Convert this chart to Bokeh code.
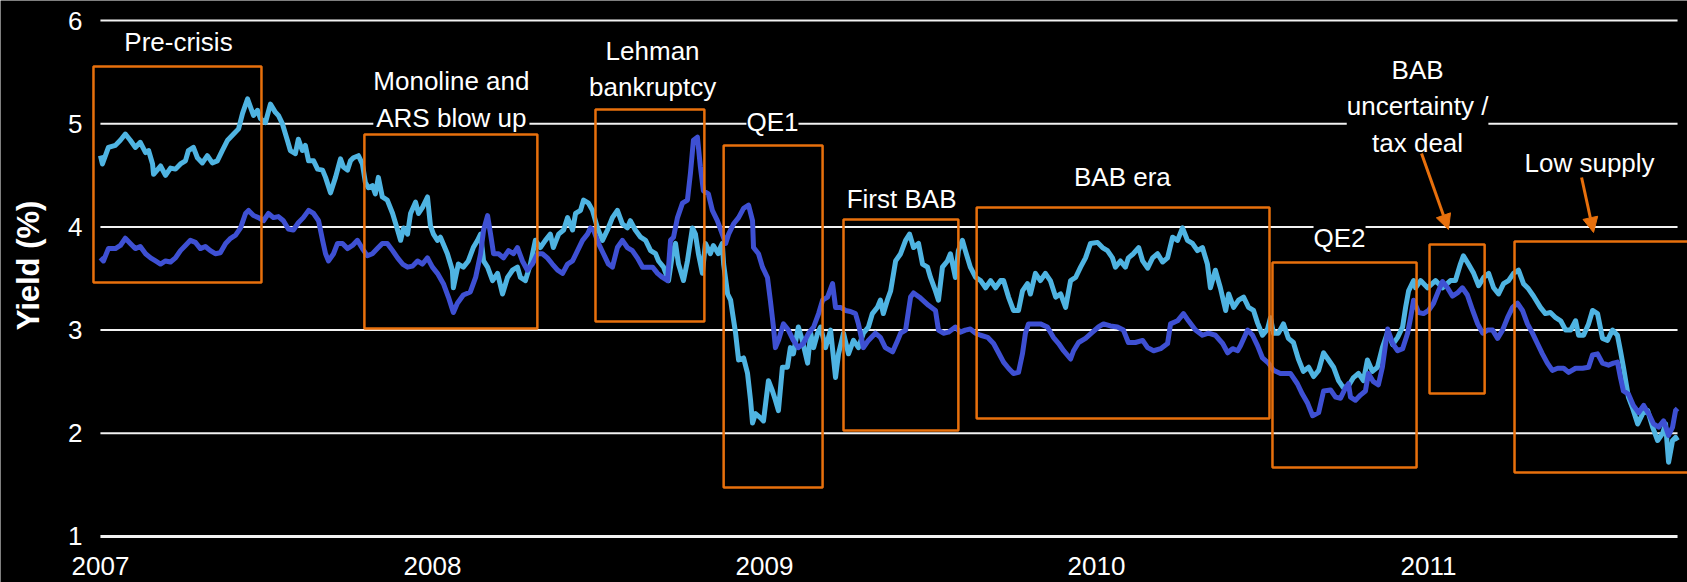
import numpy as np
from bokeh.plotting import figure
from bokeh.models import (Range1d, Label, LabelSet, ColumnDataSource,
                          BoxAnnotation, Arrow, NormalHead)
from bokeh.core.properties import value
from bokeh.embed import file_html
from bokeh.resources import INLINE

# ---------------- data ----------------
year_ticks = [2007, 2008, 2009, 2010, 2011]
year_labels = ["2007", "2008", "2009", "2010", "2011"]
yield_ticks = [1, 2, 3, 4, 5, 6]
yield_labels = ["1", "2", "3", "4", "5", "6"]

# light-blue series: time in years since 1 Jan 2007, yield (%)
lb_t = [0.000, 0.006, 0.024, 0.045, 0.060, 0.075, 0.090, 0.105, 0.120, 0.136,
        0.145, 0.157, 0.160, 0.181, 0.196, 0.211, 0.226, 0.241, 0.256, 0.265,
        0.280, 0.292, 0.307, 0.322, 0.337, 0.352, 0.367, 0.383, 0.401, 0.416,
        0.428, 0.443, 0.452, 0.461, 0.473, 0.482, 0.497, 0.512, 0.527, 0.536,
        0.548, 0.563, 0.572, 0.587, 0.596, 0.608, 0.617, 0.627, 0.642, 0.654,
        0.669, 0.678, 0.693, 0.708, 0.723, 0.732, 0.744, 0.753, 0.762, 0.777,
        0.789, 0.798, 0.807, 0.819, 0.828, 0.837, 0.849, 0.864, 0.880, 0.895,
        0.904, 0.913, 0.925, 0.934, 0.949, 0.958, 0.970, 0.985, 0.994, 1.003,
        1.015, 1.024, 1.045, 1.060, 1.063, 1.078, 1.093, 1.108, 1.123, 1.136,
        1.145, 1.154, 1.166, 1.181, 1.196, 1.211, 1.226, 1.241, 1.256, 1.265,
        1.280, 1.295, 1.310, 1.325, 1.340, 1.355, 1.364, 1.380, 1.395, 1.407,
        1.422, 1.431, 1.446, 1.455, 1.470, 1.482, 1.497, 1.512, 1.527, 1.542,
        1.557, 1.572, 1.587, 1.596, 1.611, 1.627, 1.642, 1.657, 1.672, 1.681,
        1.696, 1.711, 1.723, 1.732, 1.741, 1.756, 1.768, 1.783, 1.792, 1.801,
        1.813, 1.822, 1.837, 1.846, 1.861, 1.867, 1.873, 1.877, 1.889, 1.898,
        1.904, 1.913, 1.922, 1.937, 1.949, 1.958, 1.964, 1.973, 1.988, 1.997,
        2.012, 2.024, 2.033, 2.042, 2.054, 2.069, 2.078, 2.087, 2.102, 2.114,
        2.130, 2.139, 2.148, 2.160, 2.169, 2.184, 2.199, 2.214, 2.223, 2.238,
        2.253, 2.268, 2.283, 2.298, 2.313, 2.325, 2.340, 2.349, 2.358, 2.370,
        2.380, 2.395, 2.410, 2.425, 2.437, 2.449, 2.464, 2.476, 2.491, 2.500,
        2.515, 2.524, 2.536, 2.551, 2.560, 2.575, 2.584, 2.596, 2.605, 2.620,
        2.636, 2.651, 2.666, 2.681, 2.696, 2.711, 2.720, 2.735, 2.750, 2.765,
        2.777, 2.792, 2.801, 2.816, 2.831, 2.846, 2.861, 2.877, 2.892, 2.907,
        2.922, 2.937, 2.952, 2.967, 2.982, 3.003, 3.018, 3.033, 3.048, 3.057,
        3.072, 3.087, 3.096, 3.111, 3.127, 3.139, 3.154, 3.169, 3.184, 3.199,
        3.214, 3.229, 3.244, 3.259, 3.274, 3.289, 3.304, 3.319, 3.334, 3.343,
        3.358, 3.373, 3.389, 3.398, 3.413, 3.428, 3.443, 3.458, 3.473, 3.485,
        3.500, 3.515, 3.524, 3.533, 3.548, 3.563, 3.578, 3.593, 3.608, 3.623,
        3.639, 3.654, 3.669, 3.684, 3.699, 3.714, 3.729, 3.744, 3.759, 3.774,
        3.789, 3.804, 3.816, 3.831, 3.846, 3.861, 3.877, 3.892, 3.907, 3.922,
        3.931, 3.940, 3.955, 3.961, 3.976, 3.997, 4.021, 4.042, 4.066, 4.081,
        4.096, 4.105, 4.120, 4.136, 4.151, 4.166, 4.181, 4.196, 4.211, 4.226,
        4.241, 4.256, 4.271, 4.286, 4.301, 4.316, 4.337, 4.352, 4.367, 4.383,
        4.398, 4.413, 4.428, 4.443, 4.452, 4.467, 4.482, 4.494, 4.509, 4.524,
        4.539, 4.554, 4.569, 4.578, 4.587, 4.602, 4.614, 4.630, 4.645, 4.660,
        4.675, 4.690, 4.705, 4.714, 4.723, 4.735, 4.744, 4.750]
lb_v = [4.69, 4.61, 4.77, 4.79, 4.84, 4.90, 4.84, 4.77, 4.82, 4.72,
        4.74, 4.61, 4.51, 4.59, 4.50, 4.57, 4.56, 4.61, 4.64, 4.74,
        4.77, 4.67, 4.62, 4.69, 4.62, 4.64, 4.74, 4.84, 4.90, 4.95,
        5.10, 5.24, 5.16, 5.08, 5.13, 5.05, 5.01, 5.19, 5.11, 5.08,
        5.00, 4.84, 4.74, 4.71, 4.85, 4.74, 4.79, 4.64, 4.64, 4.56,
        4.55, 4.48, 4.33, 4.48, 4.66, 4.58, 4.55, 4.64, 4.67, 4.69,
        4.61, 4.43, 4.38, 4.40, 4.32, 4.48, 4.29, 4.26, 4.13, 3.97,
        3.87, 3.99, 3.93, 4.13, 4.24, 4.13, 4.19, 4.29, 4.01, 3.93,
        3.87, 3.90, 3.74, 3.58, 3.41, 3.64, 3.61, 3.67, 3.80, 3.87,
        3.93, 3.67, 3.61, 3.48, 3.55, 3.35, 3.51, 3.58, 3.61, 3.51,
        3.48, 3.64, 3.87, 3.80, 3.87, 3.93, 3.80, 3.93, 3.97, 4.09,
        3.97, 4.13, 4.16, 4.26, 4.23, 4.16, 3.99, 3.87, 3.97, 4.09,
        4.16, 4.03, 3.99, 4.06, 3.97, 3.90, 3.87, 3.77, 3.74, 3.67,
        3.61, 3.48, 3.74, 3.84, 3.64, 3.48, 3.67, 3.99, 3.93, 3.74,
        3.55, 3.84, 3.74, 3.82, 3.74, 3.80, 3.84, 3.64, 3.35, 3.29,
        3.16, 2.97, 2.71, 2.73, 2.58, 2.32, 2.10, 2.19, 2.15, 2.12,
        2.51, 2.41, 2.32, 2.22, 2.64, 2.64, 2.83, 2.77, 3.03, 2.90,
        2.68, 2.97, 2.83, 2.97, 3.03, 2.83, 3.00, 2.54, 2.77, 2.97,
        2.77, 2.90, 2.83, 2.97, 3.03, 3.16, 3.22, 3.29, 3.16, 3.29,
        3.38, 3.67, 3.74, 3.87, 3.93, 3.80, 3.84, 3.64, 3.61, 3.51,
        3.38, 3.29, 3.61, 3.67, 3.74, 3.51, 3.77, 3.87, 3.77, 3.61,
        3.51, 3.48, 3.41, 3.48, 3.41, 3.48, 3.48, 3.32, 3.19, 3.19,
        3.38, 3.45, 3.35, 3.55, 3.48, 3.55, 3.48, 3.32, 3.35, 3.22,
        3.48, 3.51, 3.61, 3.70, 3.84, 3.85, 3.80, 3.77, 3.70, 3.61,
        3.67, 3.61, 3.70, 3.74, 3.80, 3.67, 3.60, 3.70, 3.74, 3.66,
        3.70, 3.90, 3.87, 3.99, 3.87, 3.84, 3.77, 3.80, 3.64, 3.41,
        3.58, 3.41, 3.19, 3.35, 3.22, 3.29, 3.32, 3.22, 3.19, 3.07,
        2.95, 3.01, 3.12, 2.97, 2.97, 3.06, 2.92, 2.88, 2.72, 2.60,
        2.64, 2.55, 2.61, 2.78, 2.71, 2.64, 2.51, 2.44, 2.46, 2.54,
        2.58, 2.51, 2.71, 2.60, 2.64, 2.83, 2.98, 2.86, 2.93, 3.03,
        3.22, 3.38, 3.48, 3.41, 3.48, 3.41, 3.48, 3.41, 3.48, 3.48,
        3.64, 3.72, 3.64, 3.55, 3.43, 3.51, 3.55, 3.41, 3.35, 3.45,
        3.48, 3.55, 3.58, 3.45, 3.40, 3.33, 3.22, 3.16, 3.17, 3.12,
        3.09, 3.00, 3.00, 3.09, 2.95, 2.95, 3.06, 3.19, 3.16, 2.92,
        2.90, 3.00, 2.95, 2.80, 2.64, 2.35, 2.25, 2.09, 2.19, 2.22,
        2.06, 1.93, 2.00, 2.09, 1.72, 1.93, 1.96, 1.93]

# dark-blue series: time in years since 1 Jan 2007, yield (%)
db_t = [0.000, 0.009, 0.024, 0.045, 0.060, 0.075, 0.090, 0.105, 0.120, 0.136,
        0.151, 0.166, 0.181, 0.196, 0.211, 0.226, 0.241, 0.256, 0.271, 0.286,
        0.301, 0.316, 0.331, 0.346, 0.361, 0.377, 0.392, 0.407, 0.422, 0.437,
        0.446, 0.461, 0.476, 0.491, 0.506, 0.521, 0.536, 0.551, 0.566, 0.581,
        0.596, 0.611, 0.627, 0.642, 0.657, 0.669, 0.678, 0.687, 0.702, 0.714,
        0.729, 0.744, 0.759, 0.774, 0.789, 0.804, 0.819, 0.834, 0.849, 0.864,
        0.880, 0.895, 0.910, 0.925, 0.940, 0.955, 0.970, 0.985, 1.000, 1.015,
        1.033, 1.048, 1.063, 1.075, 1.093, 1.114, 1.130, 1.145, 1.154, 1.166,
        1.175, 1.184, 1.199, 1.214, 1.229, 1.244, 1.256, 1.271, 1.286, 1.301,
        1.316, 1.331, 1.346, 1.361, 1.377, 1.392, 1.407, 1.422, 1.437, 1.452,
        1.467, 1.476, 1.485, 1.500, 1.515, 1.530, 1.542, 1.557, 1.572, 1.587,
        1.602, 1.617, 1.633, 1.648, 1.663, 1.678, 1.693, 1.708, 1.717, 1.726,
        1.738, 1.753, 1.768, 1.777, 1.786, 1.798, 1.807, 1.816, 1.831, 1.843,
        1.858, 1.873, 1.883, 1.892, 1.907, 1.922, 1.937, 1.952, 1.964, 1.967,
        1.982, 1.994, 2.009, 2.018, 2.027, 2.033, 2.042, 2.057, 2.072, 2.087,
        2.102, 2.117, 2.133, 2.148, 2.163, 2.175, 2.190, 2.205, 2.214, 2.229,
        2.244, 2.259, 2.274, 2.283, 2.298, 2.313, 2.334, 2.349, 2.364, 2.386,
        2.401, 2.410, 2.425, 2.440, 2.449, 2.470, 2.494, 2.515, 2.524, 2.539,
        2.554, 2.575, 2.590, 2.605, 2.620, 2.636, 2.651, 2.672, 2.690, 2.705,
        2.720, 2.735, 2.750, 2.765, 2.777, 2.786, 2.795, 2.810, 2.831, 2.852,
        2.870, 2.886, 2.901, 2.922, 2.931, 2.946, 2.967, 2.988, 3.006, 3.021,
        3.042, 3.063, 3.081, 3.096, 3.117, 3.139, 3.154, 3.172, 3.193, 3.214,
        3.223, 3.244, 3.262, 3.277, 3.298, 3.319, 3.337, 3.358, 3.380, 3.395,
        3.410, 3.425, 3.434, 3.455, 3.470, 3.485, 3.500, 3.518, 3.533, 3.554,
        3.584, 3.605, 3.620, 3.636, 3.651, 3.669, 3.684, 3.705, 3.720, 3.735,
        3.750, 3.759, 3.765, 3.780, 3.795, 3.810, 3.819, 3.834, 3.849, 3.861,
        3.877, 3.892, 3.907, 3.922, 3.937, 3.946, 3.955, 3.970, 3.985, 4.000,
        4.015, 4.030, 4.042, 4.057, 4.072, 4.087, 4.102, 4.117, 4.133, 4.148,
        4.163, 4.178, 4.193, 4.208, 4.223, 4.238, 4.253, 4.268, 4.283, 4.298,
        4.313, 4.328, 4.343, 4.358, 4.373, 4.389, 4.407, 4.422, 4.443, 4.464,
        4.482, 4.494, 4.509, 4.524, 4.542, 4.557, 4.569, 4.578, 4.587, 4.602,
        4.617, 4.633, 4.648, 4.663, 4.678, 4.693, 4.708, 4.723, 4.735, 4.744,
        4.750]
db_v = [3.70, 3.67, 3.79, 3.79, 3.82, 3.89, 3.84, 3.79, 3.81, 3.74,
        3.70, 3.67, 3.64, 3.67, 3.66, 3.70, 3.77, 3.82, 3.87, 3.85,
        3.79, 3.81, 3.77, 3.74, 3.75, 3.84, 3.89, 3.92, 3.99, 4.13,
        4.16, 4.11, 4.09, 4.06, 4.13, 4.09, 4.10, 4.06, 3.98, 3.97,
        4.04, 4.09, 4.16, 4.13, 4.06, 3.87, 3.74, 3.67, 3.74, 3.84,
        3.84, 3.79, 3.82, 3.87, 3.79, 3.72, 3.74, 3.79, 3.84, 3.84,
        3.77, 3.70, 3.64, 3.61, 3.62, 3.67, 3.64, 3.70, 3.61, 3.55,
        3.45, 3.32, 3.17, 3.26, 3.34, 3.37, 3.51, 3.74, 3.97, 4.11,
        3.93, 3.74, 3.74, 3.70, 3.77, 3.74, 3.80, 3.67, 3.58, 3.64,
        3.74, 3.74, 3.70, 3.64, 3.58, 3.55, 3.64, 3.67, 3.77, 3.87,
        3.93, 3.99, 3.97, 3.84, 3.74, 3.64, 3.61, 3.80, 3.87, 3.80,
        3.77, 3.70, 3.61, 3.61, 3.61, 3.55, 3.51, 3.48, 3.87, 3.90,
        4.09, 4.23, 4.26, 4.52, 4.84, 4.87, 4.58, 4.35, 4.32, 4.16,
        4.06, 3.93, 3.84, 3.93, 4.03, 4.09, 4.18, 4.21, 4.06, 3.80,
        3.74, 3.61, 3.51, 3.28, 3.03, 2.83, 2.90, 3.06, 3.00, 2.90,
        2.83, 2.87, 2.97, 3.03, 3.16, 3.29, 3.32, 3.45, 3.22, 3.22,
        3.19, 3.18, 3.16, 3.06, 2.83, 2.90, 2.97, 2.93, 2.83, 2.79,
        2.90, 2.97, 3.00, 3.32, 3.36, 3.31, 3.24, 3.19, 3.00, 2.97,
        2.98, 3.03, 2.98, 3.00, 3.01, 2.97, 2.95, 2.93, 2.87, 2.78,
        2.69, 2.63, 2.58, 2.59, 2.77, 2.97, 3.06, 3.06, 3.06, 3.03,
        2.93, 2.87, 2.80, 2.72, 2.80, 2.88, 2.92, 2.98, 3.03, 3.06,
        3.04, 3.03, 3.00, 2.88, 2.88, 2.90, 2.83, 2.80, 2.82, 2.87,
        3.06, 3.09, 3.16, 3.09, 3.00, 2.95, 2.97, 2.95, 2.87, 2.78,
        2.82, 2.80, 2.85, 3.00, 2.95, 2.85, 2.73, 2.68, 2.61, 2.58,
        2.58, 2.48, 2.38, 2.29, 2.17, 2.20, 2.41, 2.42, 2.35, 2.34,
        2.44, 2.48, 2.35, 2.32, 2.37, 2.41, 2.58, 2.50, 2.47, 2.64,
        3.01, 2.87, 2.80, 2.82, 2.97, 3.12, 3.29, 3.17, 3.16, 3.19,
        3.26, 3.38, 3.47, 3.41, 3.33, 3.36, 3.41, 3.34, 3.19, 3.06,
        2.97, 3.00, 3.00, 2.92, 3.00, 3.12, 3.22, 3.26, 3.19, 3.06,
        2.97, 2.87, 2.77, 2.68, 2.61, 2.63, 2.63, 2.59, 2.63, 2.63,
        2.64, 2.76, 2.77, 2.68, 2.66, 2.68, 2.69, 2.54, 2.41, 2.38,
        2.27, 2.20, 2.27, 2.19, 2.09, 2.06, 2.12, 1.98, 2.06, 2.22,
        2.24]

# annotated periods (years since 1 Jan 2007, yield bounds)
period_start = [-0.021, 0.795, 1.491, 1.877, 2.238, 2.639, 3.530, 4.003, 4.259]
period_end = [0.485, 1.316, 1.819, 2.175, 2.584, 3.521, 3.964, 4.169, 4.800]
period_high = [5.554, 4.895, 5.138, 4.789, 4.072, 4.188, 3.655, 3.829, 3.859]
period_low = [3.461, 3.016, 3.083, 1.475, 2.027, 2.143, 1.669, 2.386, 1.620]

label_text = ["Pre-crisis", "Monoline and\nARS blow up", "Lehman\nbankruptcy", "QE1",
              "First BAB", "BAB era", "QE2", "BAB\nuncertainty /\ntax deal", "Low supply"]
label_t = [0.235, 1.057, 1.663, 2.024, 2.413, 3.078, 3.732, 3.967, 4.485]
label_v = [5.787, 5.234, 5.530, 5.012, 4.275, 4.479, 3.897, 5.167, 4.624]

assert len(lb_t) == len(lb_v) and len(db_t) == len(db_v)

BASE = 2007
LIGHT = "#4FB4E2"
DARK = "#3E50D3"
ORANGE = "#E8700C"
FONT = "Liberation Sans"

p = figure(width=1687, height=582, output_backend="svg", toolbar_location=None,
           x_range=Range1d(2006.699, 2011.780), y_range=Range1d(0.554, 6.194),
           x_axis_location=None, y_axis_location=None,
           min_border_left=0, min_border_right=0, min_border_top=0, min_border_bottom=0,
           background_fill_color="black", border_fill_color="black", outline_line_color=None)
p.xgrid.visible = False
p.ygrid.visible = False

# horizontal gridlines at the yield ticks
p.segment(x0=[BASE] * 5, x1=[BASE + 4.75] * 5, y0=yield_ticks[1:], y1=yield_ticks[1:],
          line_color="#F2F2F2", line_width=2)
p.segment(x0=[BASE], x1=[BASE + 4.75], y0=[yield_ticks[0]], y1=[yield_ticks[0]],
          line_color="#F2F2F2", line_width=3)

lbx = BASE + np.array(lb_t)
dbx = BASE + np.array(db_t)
p.line(lbx, lb_v, line_color=LIGHT, line_width=5, line_join="round")
p.line(dbx, db_v, line_color=DARK, line_width=5, line_join="round")

for s, e, hi, lo in zip(period_start, period_end, period_high, period_low):
    p.add_layout(BoxAnnotation(left=BASE + s, right=BASE + e, top=hi, bottom=lo,
                               fill_color=None, fill_alpha=0,
                               line_color=ORANGE, line_alpha=1.0, line_width=2.5))

for txt, t, v in zip(label_text, label_t, label_v):
    p.add_layout(Label(x=BASE + t, y=v, text=txt, text_font=FONT, text_font_size="26px",
                       text_color="white", text_align="center", text_baseline="middle",
                       background_fill_color="black", text_line_height=1.22))

# arrows
p.add_layout(Arrow(end=NormalHead(size=15, fill_color=ORANGE, line_color=ORANGE),
                   x_start=BASE + 3.979, y_start=4.711, x_end=BASE + 4.060, y_end=3.975,
                   line_color=ORANGE, line_width=3))
p.add_layout(Arrow(end=NormalHead(size=15, fill_color=ORANGE, line_color=ORANGE),
                   x_start=BASE + 4.461, y_start=4.479, x_end=BASE + 4.497, y_end=3.946,
                   line_color=ORANGE, line_width=3))

# x tick labels
xsrc = ColumnDataSource(dict(x=year_ticks, y=[yield_ticks[0]] * len(year_ticks), text=year_labels))
p.add_layout(LabelSet(x="x", y="y", text="text", source=xsrc, y_offset=-21,
                      text_font=value(FONT), text_font_size=value("26px"), text_color="white",
                      text_align="center", text_baseline="top"))

# y tick labels
ysrc = ColumnDataSource(dict(x=[BASE] * len(yield_ticks), y=yield_ticks, text=yield_labels))
p.add_layout(LabelSet(x="x", y="y", text="text", source=ysrc, x_offset=-18,
                      text_font=value(FONT), text_font_size=value("26px"), text_color="white",
                      text_align="right", text_baseline="middle"))

# y-axis title
p.add_layout(Label(x=BASE - 0.217, y=3.626, text="Yield (%)", angle=np.pi / 2,
                   text_font=FONT, text_font_size="31px", text_font_style="bold",
                   text_color="white", text_align="center", text_baseline="middle"))

open("out.html", "w").write(file_html(p, INLINE))
